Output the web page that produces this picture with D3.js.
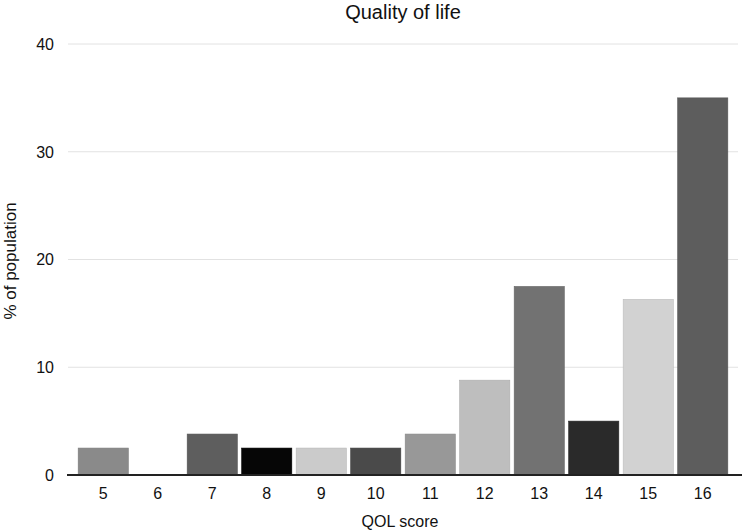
<!DOCTYPE html>
<html>
<head>
<meta charset="utf-8">
<script src="https://cdn.jsdelivr.net/npm/d3@7"></script>
<style>
  body { margin: 0; background: #fff; }
  text { font-family: "Liberation Sans", Arial, sans-serif; fill: #111; }
</style>
</head>
<body>
<div id="chart"></div>
<script>
// Data
let scores = ["5", "6", "7", "8", "9", "10", "11", "12", "13", "14", "15", "16"];
let percents = [2.5, 0, 3.8, 2.5, 2.5, 2.5, 3.8, 8.8, 17.5, 5.0, 16.3, 35.0];
let barColors = ["#8a8a8a", "#777777", "#5e5e5e", "#060606", "#cbcbcb", "#4a4a4a",
                 "#989898", "#bebebe", "#727272", "#2a2a2a", "#d2d2d2", "#5d5d5d"];
let yTicks = [0, 10, 20, 30, 40];

let width = 742;
let height = 530;

let svg = d3.select("#chart")
    .append("svg")
    .attr("width", width)
    .attr("height", height);

let x = d3.scaleBand()
    .domain(scores)
    .range([76, 730])
    .paddingInner(0.08)
    .paddingOuter(0.04);

let y = d3.scaleLinear()
    .domain([0, 40])
    .range([475, 44]);

// gridlines
svg.append("g")
    .selectAll("line")
    .data(yTicks.filter(d => d > 0))
    .join("line")
    .attr("x1", 68)
    .attr("x2", 738)
    .attr("y1", d => y(d))
    .attr("y2", d => y(d))
    .attr("stroke", "#e2e2e2")
    .attr("stroke-width", 1);

// y tick labels
svg.append("g")
    .selectAll("text")
    .data(yTicks)
    .join("text")
    .attr("x", 54)
    .attr("y", d => y(d))
    .attr("dy", "0.36em")
    .attr("text-anchor", "end")
    .style("font-size", "16px")
    .text(d => d);

// bars
let data = scores.map((s, i) => ({ score: s, value: percents[i], color: barColors[i] }));

svg.append("g")
    .selectAll("rect")
    .data(data)
    .join("rect")
    .attr("x", d => x(d.score))
    .attr("y", d => y(d.value))
    .attr("width", x.bandwidth())
    .attr("height", d => y(0) - y(d.value))
    .attr("fill", d => d.color)
    .attr("stroke", d => d3.color(d.color).darker(0.3))
    .attr("stroke-width", 0.6);

// x axis line
svg.append("line")
    .attr("x1", 67)
    .attr("x2", 742)
    .attr("y1", y(0))
    .attr("y2", y(0))
    .attr("stroke", "#222")
    .attr("stroke-width", 2);

// x tick labels
svg.append("g")
    .selectAll("text")
    .data(scores)
    .join("text")
    .attr("x", d => x(d) + x.bandwidth() / 2)
    .attr("y", 499)
    .attr("text-anchor", "middle")
    .style("font-size", "16px")
    .text(d => d);

// title
svg.append("text")
    .attr("x", 403)
    .attr("y", 19)
    .attr("text-anchor", "middle")
    .style("font-size", "20px")
    .text("Quality of life");

// axis titles
svg.append("text")
    .attr("x", 400)
    .attr("y", 527)
    .attr("text-anchor", "middle")
    .style("font-size", "16px")
    .text("QOL score");

svg.append("text")
    .attr("transform", "translate(16, 261) rotate(-90)")
    .attr("text-anchor", "middle")
    .style("font-size", "17px")
    .text("% of population");
</script>
</body>
</html>
